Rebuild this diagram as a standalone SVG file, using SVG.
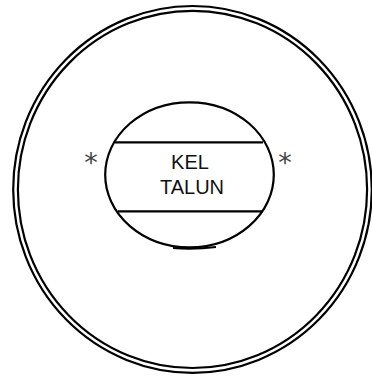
<svg xmlns="http://www.w3.org/2000/svg" width="372" height="377" viewBox="0 0 372 377">
<style>
.ln{fill:none;stroke:#000;stroke-width:2.2}
.t{font-family:"Liberation Sans",Arial,sans-serif;font-size:20px;fill:#111;text-anchor:middle}
.a{font-family:"DejaVu Sans",sans-serif;font-size:27px;fill:#444;text-anchor:middle}
</style>
<rect width="372" height="377" fill="#fff"/>
<g id="outer">
<ellipse class="ln" cx="192.5" cy="189.4" rx="179.3" ry="183.4"/>
<ellipse class="ln" cx="192.5" cy="189.4" rx="174.6" ry="178.6"/>
</g>
<g id="entity">
<ellipse class="ln" cx="189.5" cy="174.8" rx="84.3" ry="72.5" stroke-width="1.6"/>
<line class="ln" x1="115" y1="142.3" x2="263" y2="142.3" stroke-width="1.6"/>
<line class="ln" x1="118" y1="211.3" x2="263" y2="211.3" stroke-width="1.6"/>
<text class="t" x="190" y="169">KEL</text>
<text class="t" x="192" y="194">TALUN</text>
<path d="M173,248 Q195,249.5 216,247" fill="none" stroke="#000" stroke-width="2.2"/>
</g>
<g id="marks">
<text class="a" x="91" y="172">*</text>
<text class="a" x="285" y="172">*</text>
</g>
</svg>
